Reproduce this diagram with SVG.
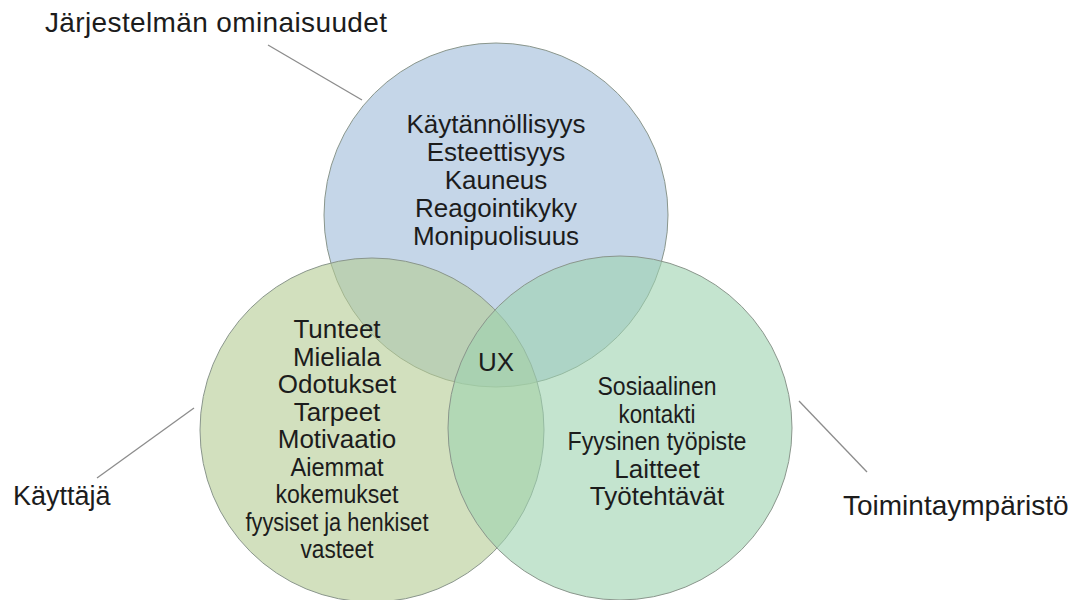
<svg xmlns="http://www.w3.org/2000/svg" width="1082" height="600" viewBox="0 0 1082 600">
<style>
.c{stroke:#8a968c;stroke-width:1;fill-opacity:0.6}
.t{font-family:"Liberation Sans",Arial,sans-serif;font-size:26px;fill:#1c1c1c;text-anchor:middle}
.l{font-family:"Liberation Sans",Arial,sans-serif;font-size:28px;fill:#1c1c1c}
.ln{stroke:#8c8c8c;stroke-width:1.3;fill:none}
</style>
<rect width="1082" height="600" fill="#ffffff"/>
<g id="jarjestelma">
<circle class="c" cx="496" cy="215" r="172" fill="#9ebbd9"/>
<text class="t" x="496" y="133">Käytännöllisyys</text>
<text class="t" x="496" y="161">Esteettisyys</text>
<text class="t" x="496" y="189">Kauneus</text>
<text class="t" x="496" y="217">Reagointikyky</text>
<text class="t" x="496" y="245">Monipuolisuus</text>
</g>
<g id="kayttaja">
<circle class="c" cx="372" cy="430" r="172" fill="#b4cb93"/>
<text class="t" x="337" y="338">Tunteet</text>
<text class="t" x="337" y="365.5">Mieliala</text>
<text class="t" x="337" y="393">Odotukset</text>
<text class="t" x="337" y="420.5">Tarpeet</text>
<text class="t" x="337" y="448">Motivaatio</text>
<text class="t" x="337" y="475.5" textLength="93" lengthAdjust="spacingAndGlyphs">Aiemmat</text>
<text class="t" x="337" y="503" textLength="123" lengthAdjust="spacingAndGlyphs">kokemukset</text>
<text class="t" x="337" y="530.5" textLength="183" lengthAdjust="spacingAndGlyphs">fyysiset ja henkiset</text>
<text class="t" x="337" y="558" textLength="73" lengthAdjust="spacingAndGlyphs">vasteet</text>
</g>
<g id="toimintaymparisto">
<circle class="c" cx="620" cy="428" r="172" fill="#9dd2af"/>
<text class="t" x="657" y="395" textLength="119" lengthAdjust="spacingAndGlyphs">Sosiaalinen</text>
<text class="t" x="657" y="422.5" textLength="77" lengthAdjust="spacingAndGlyphs">kontakti</text>
<text class="t" x="657" y="450" textLength="179" lengthAdjust="spacingAndGlyphs">Fyysinen työpiste</text>
<text class="t" x="657" y="477.5">Laitteet</text>
<text class="t" x="657" y="505">Työtehtävät</text>
</g>
<g id="ux">
<text class="t" x="496" y="371">UX</text>
</g>
<g id="connectors">
<line class="ln" x1="268" y1="45" x2="362" y2="100"/>
<line class="ln" x1="97" y1="478" x2="194" y2="408"/>
<line class="ln" x1="799" y1="401" x2="867" y2="472"/>
</g>
<g id="label-jarjestelma">
<text class="l" x="45" y="32" textLength="342">Järjestelmän ominaisuudet</text>
</g>
<g id="label-kayttaja">
<text class="l" x="13" y="505" style="font-size:27px">Käyttäjä</text>
</g>
<g id="label-toiminta">
<text class="l" x="843" y="515">Toimintaympäristö</text>
</g>
</svg>
